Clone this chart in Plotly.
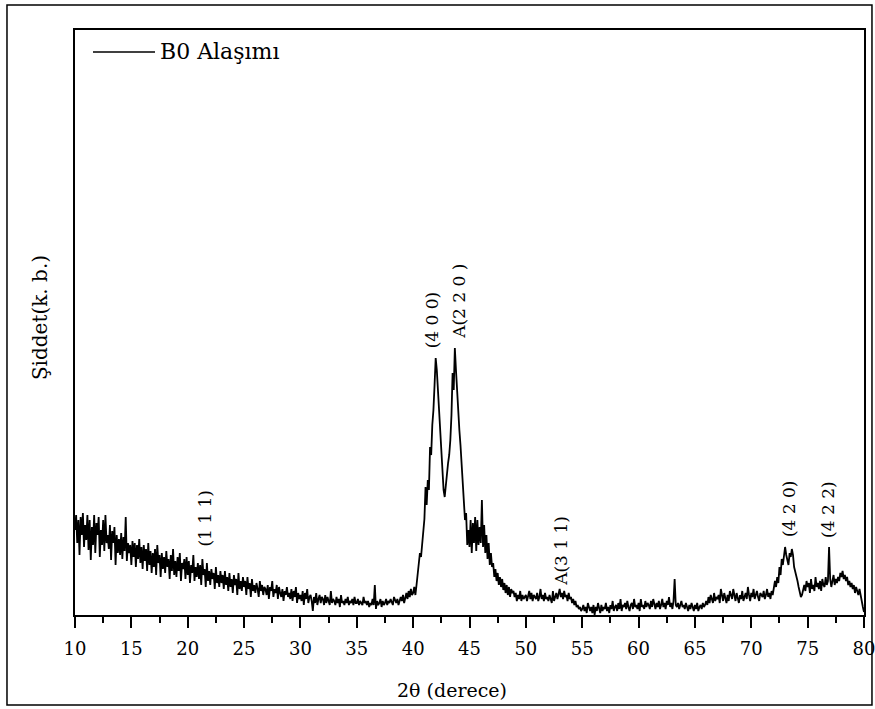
import numpy as np
import plotly.graph_objects as go

# 2-theta grid (degrees), 0.1 step from 10 to 80
theta = np.round(np.arange(10.0, 80.0001, 0.1), 1)

# Intensity (arbitrary units), one row per degree (x.0 .. x.9)
intensity_rows = [
    [85, 100, 72, 95, 60, 98, 80, 102, 68, 90],    # 10
    [75, 100, 65, 95, 55, 88, 70, 100, 62, 92],    # 11
    [80, 98, 58, 85, 70, 95, 64, 100, 72, 80],     # 12
    [66, 90, 55, 84, 72, 88, 50, 80, 62, 76],      # 13
    [60, 82, 56, 78, 64, 98, 54, 72, 62, 70],      # 14
    [50, 74, 58, 72, 48, 70, 56, 76, 52, 68],      # 15
    [46, 70, 54, 66, 44, 72, 50, 64, 42, 62],      # 16
    [48, 66, 40, 70, 52, 60, 38, 62, 46, 58],      # 17
    [42, 64, 48, 56, 36, 60, 44, 66, 40, 54],      # 18
    [38, 58, 44, 62, 34, 52, 46, 56, 36, 58],      # 19
    [40, 54, 32, 50, 42, 60, 34, 48, 38, 52],      # 20
    [36, 50, 30, 56, 40, 46, 28, 52, 34, 44],      # 21
    [30, 46, 36, 42, 26, 48, 32, 40, 28, 44],      # 22
    [32, 40, 26, 44, 30, 38, 24, 42, 28, 36],      # 23
    [22, 40, 30, 36, 20, 42, 26, 34, 24, 38],      # 24
    [28, 34, 20, 38, 26, 32, 18, 36, 24, 30],      # 25
    [22, 32, 26, 18, 34, 24, 30, 20, 28, 26],      # 26
    [20, 30, 16, 28, 24, 34, 18, 26, 22, 30],      # 27
    [16, 28, 22, 18, 26, 14, 24, 20, 28, 18],      # 28
    [22, 16, 26, 14, 24, 18, 28, 12, 22, 16],      # 29
    [20, 14, 24, 10, 22, 16, 26, 12, 18, 20],      # 30
    [14, 4, 18, 12, 22, 10, 16, 20, 12, 18],       # 31
    [16, 10, 20, 12, 18, 14, 10, 24, 12, 16],      # 32
    [14, 10, 18, 12, 16, 8, 20, 12, 14, 10],       # 33
    [16, 12, 18, 10, 14, 12, 16, 10, 18, 12],      # 34
    [12, 16, 10, 14, 12, 10, 18, 12, 14, 10],      # 35
    [14, 8, 12, 10, 16, 10, 30, 6, 14, 10],        # 36
    [12, 16, 8, 14, 10, 12, 16, 10, 14, 12],       # 37
    [16, 12, 10, 18, 14, 12, 16, 10, 14, 18],      # 38
    [14, 20, 12, 18, 22, 16, 24, 18, 26, 20],      # 39
    [22, 28, 20, 30, 40, 50, 62, 58, 70, 80],      # 40
    [96, 128, 110, 135, 125, 168, 160, 190, 205, 230],  # 41
    [257, 245, 225, 205, 185, 165, 140, 125, 118, 130],  # 42
    [145, 152, 160, 175, 200, 242, 225, 267, 245, 220],  # 43
    [200, 185, 170, 150, 130, 118, 95, 102, 70, 85],  # 44
    [68, 95, 62, 92, 72, 98, 64, 95, 70, 88],      # 45
    [72, 115, 68, 90, 62, 80, 56, 72, 50, 62],     # 46
    [48, 52, 38, 46, 34, 42, 30, 38, 28, 36],      # 47
    [25, 32, 22, 30, 20, 28, 18, 26, 22, 24],      # 48
    [18, 22, 14, 20, 16, 24, 14, 20, 16, 18],      # 49
    [20, 14, 18, 24, 16, 22, 14, 20, 18, 16],      # 50
    [22, 14, 18, 26, 16, 20, 14, 22, 16, 18],      # 51
    [14, 20, 16, 12, 24, 14, 18, 22, 16, 20],      # 52
    [26, 18, 22, 16, 24, 18, 20, 14, 22, 16],      # 53
    [18, 12, 16, 10, 14, 8, 10, 6, 8, 4],          # 54
    [6, 10, 4, 8, 2, 12, 6, 4, 8, 2],              # 55
    [10, 0, 8, 4, 12, 6, 2, 10, 4, 8],             # 56
    [6, 12, 4, 8, 2, 10, 6, 14, 4, 8],             # 57
    [10, 4, 12, 6, 16, 4, 10, 8, 12, 6],           # 58
    [14, 8, 4, 10, 12, 6, 16, 8, 10, 6],           # 59
    [12, 4, 16, 8, 10, 6, 14, 8, 12, 10],          # 60
    [6, 14, 8, 16, 10, 6, 12, 8, 14, 6],           # 61
    [10, 16, 8, 12, 6, 14, 10, 18, 8, 12],         # 62
    [6, 14, 36, 10, 8, 12, 6, 10, 14, 8],          # 63
    [10, 6, 12, 8, 4, 10, 6, 12, 8, 4],            # 64
    [10, 6, 12, 4, 8, 10, 6, 12, 8, 10],           # 65
    [14, 10, 18, 12, 20, 16, 12, 22, 14, 18],      # 66
    [16, 20, 12, 26, 18, 14, 22, 16, 12, 20],      # 67
    [14, 24, 18, 16, 26, 20, 14, 22, 18, 12],      # 68
    [20, 16, 24, 14, 18, 22, 16, 28, 20, 14],      # 69
    [22, 18, 26, 16, 20, 24, 18, 14, 22, 20],      # 70
    [18, 24, 16, 20, 26, 18, 22, 16, 24, 20],      # 71
    [26, 34, 28, 38, 32, 48, 40, 56, 50, 62],      # 72
    [68, 60, 55, 50, 62, 58, 66, 60, 48, 44],      # 73
    [38, 34, 28, 22, 18, 20, 26, 30, 24, 34],      # 74
    [28, 32, 22, 36, 26, 30, 24, 38, 28, 32],      # 75
    [26, 34, 24, 36, 30, 28, 38, 30, 34, 68],      # 76
    [36, 28, 34, 40, 30, 36, 32, 38, 34, 42],      # 77
    [38, 44, 36, 40, 34, 38, 30, 34, 28, 32],      # 78
    [26, 30, 22, 28, 24, 20, 26, 18, 14, 8],       # 79
    [3],                                           # 80
]
intensity = [v for row in intensity_rows for v in row]

series_name = "B0 Alaşımı"
x_title = "2θ (derece)"
y_title = "Şiddet(k. b.)"
x_ticks = [10, 15, 20, 25, 30, 35, 40, 45, 50, 55, 60, 65, 70, 75, 80]

peak_labels = ["(1 1 1)", "(4 0 0)", "A(2 2 0 )", "A(3 1 1)", "(4 2 0)", "(4 2 2)"]
peak_x = [21.5, 41.7, 44.05, 53.1, 73.35, 76.8]
peak_y = [97, 295, 314, 64, 106, 106]

FONT = "DejaVu Serif"

fig = go.Figure()
fig.add_trace(go.Scatter(
    x=theta, y=intensity, mode="lines", name=series_name,
    line=dict(color="black", width=1.8), showlegend=False,
))

annotations = []
for txt, px, py in zip(peak_labels, peak_x, peak_y):
    annotations.append(dict(
        x=px, y=py, xref="x", yref="y", text=txt, showarrow=False,
        textangle=-90, font=dict(family=FONT, size=17, color="black"),
        xanchor="center", yanchor="middle",
    ))

annotations.append(dict(
    x=0.105, y=0.9624, xref="paper", yref="paper", text=series_name,
    showarrow=False, xanchor="left", yanchor="middle",
    font=dict(family=FONT, size=22, color="black"),
))
annotations.append(dict(
    x=0.478, y=-0.128, xref="paper", yref="paper", text=x_title,
    showarrow=False, xanchor="center", yanchor="middle",
    font=dict(family=FONT, size=19, color="black"),
))
annotations.append(dict(
    x=-0.0445, y=0.509, xref="paper", yref="paper", text=y_title,
    showarrow=False, xanchor="center", yanchor="middle", textangle=-90,
    font=dict(family=FONT, size=20, color="black"),
))

shapes = [
    dict(type="line", xref="paper", yref="paper", x0=0.0228, x1=0.1014,
         y0=0.9624, y1=0.9624, line=dict(color="black", width=1.5)),
    dict(type="rect", xref="paper", yref="paper", x0=-0.0862, x1=1.0101,
         y0=-0.1538, y1=1.0427, line=dict(color="black", width=1.5)),
]

fig.update_layout(
    template="none",
    width=875, height=709, autosize=False,
    margin=dict(l=75, r=11, t=30, b=94),
    paper_bgcolor="white", plot_bgcolor="white",
    font=dict(family=FONT, color="black"),
    annotations=annotations, shapes=shapes,
    xaxis=dict(
        range=[10, 80], tickvals=x_ticks, ticktext=[str(t) for t in x_ticks],
        automargin=False, ticklabeloverflow="allow",
        ticks="outside", ticklen=11, tickwidth=2, tickcolor="black",
        minor=dict(ticks="outside", ticklen=6, tickwidth=2, tickcolor="black", dtick=2.5),
        showline=True, linecolor="black", linewidth=2, mirror=True,
        showgrid=False, zeroline=False,
        tickfont=dict(family=FONT, size=18, color="black"),
        ticklabelstandoff=5,
    ),
    yaxis=dict(
        range=[0, 585], showticklabels=False, ticks="", automargin=False,
        showline=True, linecolor="black", linewidth=2, mirror=True,
        showgrid=False, zeroline=False,
    ),
)

fig.write_html("out.html")
